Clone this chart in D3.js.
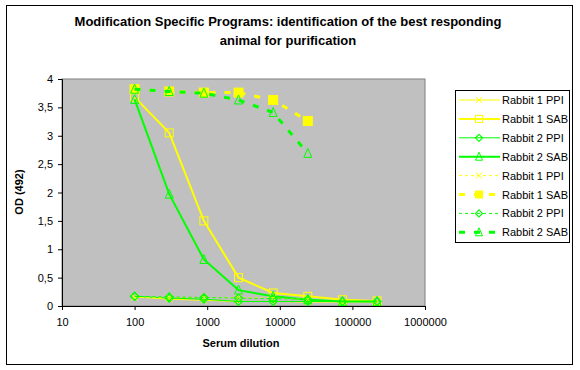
<!DOCTYPE html>
<html>
<head>
<meta charset="utf-8">
<script src="https://cdn.jsdelivr.net/npm/d3@7"></script>
<style>
  body { margin: 0; background: #fff; }
  text { font-family: "Liberation Sans", Arial, sans-serif; }
</style>
</head>
<body>
<div id="chart"></div>
<script>
// serum dilutions (3-fold series)
let dilutions = [100, 300, 900, 2700, 8100, 24300, 72900, 218700]

// first set of curves (solid lines)
let r1PPI = [0.16, 0.12, 0.10, 0.08, 0.08, 0.07, 0.07, 0.07]
let r1SAB = [3.68, 3.05, 1.50, 0.50, 0.23, 0.17, 0.11, 0.09]
let r2PPI = [0.17, 0.14, 0.12, 0.08, 0.08, 0.08, 0.08, 0.08]
let r2SAB = [3.64, 1.97, 0.82, 0.28, 0.17, 0.11, 0.08, 0.08]

// second set of curves (dashed lines)
let r1PPIb = [0.15, 0.15, 0.15, 0.15, 0.14, 0.12]
let r1SABb = [3.82, 3.78, 3.76, 3.76, 3.63, 3.26]
let r2PPIb = [0.17, 0.16, 0.15, 0.14, 0.13, 0.12]
let r2SABb = [3.82, 3.78, 3.75, 3.63, 3.41, 2.69]

let xTicks = [10, 100, 1000, 10000, 100000, 1000000]
let yTicks = [0, 0.5, 1, 1.5, 2, 2.5, 3, 3.5, 4]

let yellow = "#FFFF00", green = "#00FF00"

let series = [
  {name: "Rabbit 1 PPI", values: r1PPI, color: yellow, width: 1, dash: null, marker: "x", fill: "none"},
  {name: "Rabbit 1 SAB", values: r1SAB, color: yellow, width: 2, dash: null, marker: "square", fill: "none"},
  {name: "Rabbit 2 PPI", values: r2PPI, color: green, width: 1, dash: null, marker: "diamond", fill: "none"},
  {name: "Rabbit 2 SAB", values: r2SAB, color: green, width: 2, dash: null, marker: "triangle", fill: "none"},
  {name: "Rabbit 1 PPI", values: r1PPIb, color: yellow, width: 1, dash: "3,3", marker: "x", fill: "none"},
  {name: "Rabbit 1 SAB", values: r1SABb, color: yellow, width: 3, dash: "6,9", marker: "square", fill: yellow},
  {name: "Rabbit 2 PPI", values: r2PPIb, color: green, width: 1, dash: "3,3", marker: "diamond", fill: "none"},
  {name: "Rabbit 2 SAB", values: r2SABb, color: green, width: 3, dash: "6,9", marker: "triangle", fill: "none"}
]

let svg = d3.select("#chart")
  .append("svg")
  .attr("width", 580)
  .attr("height", 370)

// outer frame
svg.append("rect")
  .attr("x", 6.5).attr("y", 5.5)
  .attr("width", 566).attr("height", 359)
  .attr("fill", "white")
  .attr("stroke", "black")

let plotLeft = 62, plotRight = 425, plotTop = 79, plotBottom = 306

let x = d3.scaleLog().domain([10, 1000000]).range([plotLeft, plotRight])
let y = d3.scaleLinear().domain([0, 4]).range([plotBottom, plotTop])

// plot area
svg.append("rect")
  .attr("x", plotLeft).attr("y", plotTop)
  .attr("width", plotRight - plotLeft).attr("height", plotBottom - plotTop)
  .attr("fill", "#C0C0C0")
  .attr("stroke", "#808080")

let fmt = d => String(d).replace(".", ",")

svg.append("g")
  .attr("transform", "translate(0," + plotBottom + ")")
  .call(d3.axisBottom(x).tickValues(xTicks).tickFormat(d => String(d)).tickSizeOuter(0).tickSize(4).tickPadding(8))
  .call(g => g.selectAll("text").attr("font-size", 11).attr("fill", "black"))

svg.append("g")
  .attr("transform", "translate(" + plotLeft + ",0)")
  .call(d3.axisLeft(y).tickValues(yTicks).tickFormat(fmt).tickSizeOuter(0).tickSize(4).tickPadding(5))
  .call(g => g.selectAll("text").attr("font-size", 11).attr("fill", "black"))

svg.selectAll(".domain").attr("stroke", "black")

// marker drawing helper
function drawMarker(g, type, cx, cy, color, fill, size) {
  let s = size || 4
  if (type === "square") {
    g.append("rect").attr("x", cx - s).attr("y", cy - s)
      .attr("width", 2 * s).attr("height", 2 * s)
      .attr("fill", fill).attr("stroke", color).attr("stroke-width", 1)
  } else if (type === "triangle") {
    g.append("path")
      .attr("d", "M" + cx + "," + (cy - s - 1) + "L" + (cx + s) + "," + (cy + s) + "L" + (cx - s) + "," + (cy + s) + "Z")
      .attr("fill", fill).attr("stroke", color).attr("stroke-width", 1)
  } else if (type === "diamond") {
    g.append("path")
      .attr("d", "M" + cx + "," + (cy - s) + "L" + (cx + s) + "," + cy + "L" + cx + "," + (cy + s) + "L" + (cx - s) + "," + cy + "Z")
      .attr("fill", fill).attr("stroke", color).attr("stroke-width", 1.2)
  } else if (type === "x") {
    g.append("path")
      .attr("d", "M" + (cx - 3) + "," + (cy - 3) + "L" + (cx + 3) + "," + (cy + 3) + "M" + (cx + 3) + "," + (cy - 3) + "L" + (cx - 3) + "," + (cy + 3))
      .attr("stroke", color).attr("stroke-width", 1)
  }
}

let line = d3.line()
  .x(d => x(d.x))
  .y(d => y(d.y))

let plot = svg.append("g")

series.forEach(function(s) {
  let pts = s.values.map((v, i) => ({x: dilutions[i], y: v}))
  plot.append("path")
    .datum(pts)
    .attr("d", line)
    .attr("fill", "none")
    .attr("stroke", s.color)
    .attr("stroke-width", s.width)
    .attr("stroke-dasharray", s.dash)
  let mg = plot.append("g")
  pts.forEach(function(p) {
    drawMarker(mg, s.marker, x(p.x), y(p.y), s.color, s.fill, s.fill === "none" ? 4 : 4.5)
  })
})

// title
svg.append("text")
  .attr("x", 288).attr("y", 26)
  .attr("text-anchor", "middle")
  .attr("font-size", 13).attr("font-weight", "bold")
  .text("Modification Specific Programs: identification of the best responding")
svg.append("text")
  .attr("x", 288).attr("y", 45)
  .attr("text-anchor", "middle")
  .attr("font-size", 13).attr("font-weight", "bold")
  .text("animal for purification")

// axis titles
svg.append("text")
  .attr("x", 241).attr("y", 347)
  .attr("text-anchor", "middle")
  .attr("font-size", 11).attr("font-weight", "bold")
  .text("Serum dilution")

svg.append("text")
  .attr("transform", "translate(23,192) rotate(-90)")
  .attr("text-anchor", "middle")
  .attr("font-size", 11).attr("font-weight", "bold")
  .text("OD (492)")

// legend
let legend = svg.append("g")
legend.append("rect")
  .attr("x", 455.5).attr("y", 90.5)
  .attr("width", 114).attr("height", 152)
  .attr("fill", "white").attr("stroke", "black")

series.forEach(function(s, i) {
  let ly = 100 + i * 18.9
  legend.append("line")
    .attr("x1", 459).attr("x2", 500)
    .attr("y1", ly).attr("y2", ly)
    .attr("stroke", s.color)
    .attr("stroke-width", s.width)
    .attr("stroke-dasharray", s.dash)
  drawMarker(legend, s.marker, 479, ly, s.color, s.fill, 3.5)
  legend.append("text")
    .attr("x", 502).attr("y", ly + 4)
    .attr("font-size", 11)
    .text(s.name)
})
</script>
</body>
</html>
